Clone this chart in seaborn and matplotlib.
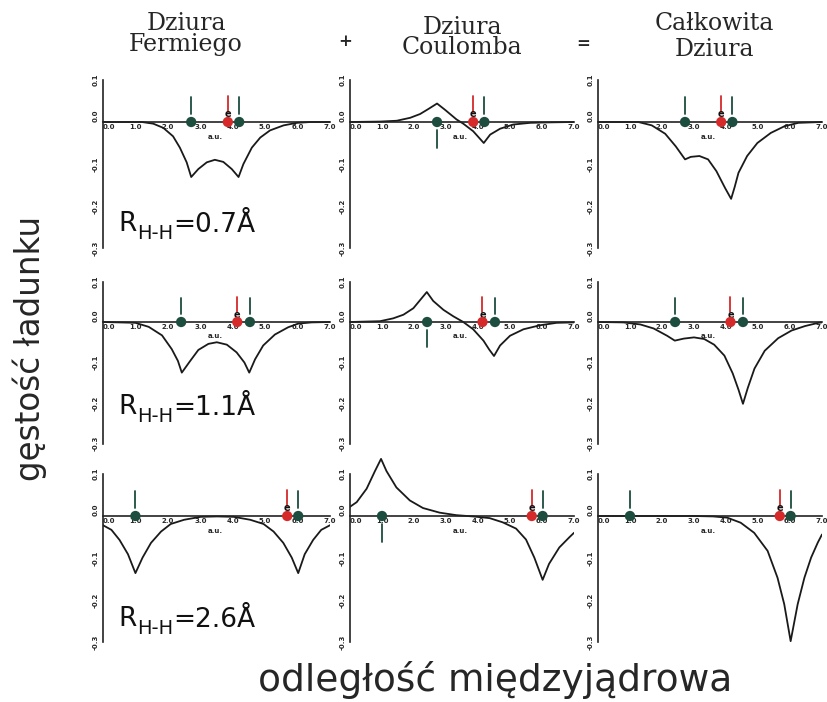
import numpy as np
import pandas as pd
import matplotlib
matplotlib.use("Agg")
import matplotlib.pyplot as plt
import seaborn as sns

# =============================================================================
# DANE (x w a.u., y = gestosc ladunku)
# =============================================================================
# R(H-H) = 0.7 A
fermi_07_x = [0, 1.2, 1.55, 1.86, 2.16, 2.37, 2.58, 2.72, 2.94, 3.2, 3.45, 3.71, 3.97, 4.18, 4.33, 4.59, 4.85, 5.15, 5.57, 5.98, 6.4, 7.0]
fermi_07_y = [0, 0, -0.004, -0.014, -0.034, -0.061, -0.096, -0.131, -0.112, -0.096, -0.090, -0.095, -0.112, -0.131, -0.100, -0.061, -0.037, -0.020, -0.008, -0.002, 0, 0]
coul_07_x = [0, 0.94, 1.46, 1.88, 2.19, 2.45, 2.72, 2.97, 3.33, 3.54, 3.85, 4.18, 4.38, 4.69, 5.1, 5.63, 6.15, 7.0]
coul_07_y = [0, 0.001, 0.003, 0.010, 0.019, 0.031, 0.044, 0.029, 0.006, -0.004, -0.022, -0.050, -0.030, -0.016, -0.006, -0.002, -0.001, 0]
tot_07_x = [0, 1.26, 1.68, 2.1, 2.43, 2.72, 2.9, 3.17, 3.44, 3.7, 3.97, 4.16, 4.27, 4.39, 4.66, 4.98, 5.4, 5.83, 6.26, 7.0]
tot_07_y = [0, 0, -0.008, -0.028, -0.058, -0.089, -0.083, -0.081, -0.089, -0.117, -0.157, -0.183, -0.155, -0.121, -0.081, -0.050, -0.026, -0.010, -0.002, 0]

# R(H-H) = 1.1 A
fermi_11_x = [0, 1.0, 1.41, 1.82, 2.12, 2.31, 2.43, 2.69, 2.94, 3.25, 3.51, 3.82, 4.12, 4.36, 4.51, 4.69, 4.94, 5.3, 5.71, 6.02, 6.43, 7.0]
fermi_11_y = [0, -0.002, -0.012, -0.033, -0.067, -0.096, -0.125, -0.096, -0.069, -0.054, -0.050, -0.056, -0.075, -0.100, -0.125, -0.092, -0.058, -0.031, -0.013, -0.004, -0.001, 0]
coul_11_x = [0, 0.94, 1.35, 1.67, 1.98, 2.19, 2.4, 2.6, 2.92, 3.23, 3.54, 3.85, 4.17, 4.35, 4.5, 4.69, 5.0, 5.42, 5.94, 6.46, 7.0]
coul_11_y = [0, 0.002, 0.009, 0.018, 0.034, 0.054, 0.074, 0.052, 0.030, 0.014, 0, -0.018, -0.046, -0.068, -0.084, -0.058, -0.034, -0.018, -0.008, -0.002, -0.001]
tot_11_x = [0, 0.79, 1.32, 1.74, 2.16, 2.4, 2.68, 3.0, 3.32, 3.63, 3.95, 4.21, 4.39, 4.53, 4.68, 4.89, 5.21, 5.63, 6.05, 6.47, 6.89, 7.0]
tot_11_y = [0, -0.001, -0.006, -0.016, -0.034, -0.046, -0.041, -0.038, -0.042, -0.056, -0.083, -0.127, -0.167, -0.202, -0.163, -0.115, -0.071, -0.040, -0.021, -0.010, -0.002, -0.001]

# R(H-H) = 2.6 A
fermi_26_x = [0, 0.26, 0.51, 0.77, 1.0, 1.22, 1.48, 1.79, 2.09, 2.5, 3.01, 3.52, 4.03, 4.54, 4.95, 5.26, 5.56, 5.82, 6.02, 6.22, 6.48, 6.73, 7.0]
fermi_26_y = [-0.022, -0.033, -0.057, -0.091, -0.136, -0.099, -0.064, -0.037, -0.019, -0.009, -0.002, -0.001, -0.002, -0.009, -0.019, -0.037, -0.064, -0.099, -0.136, -0.091, -0.057, -0.033, -0.022]
coul_26_x = [0, 0.21, 0.52, 0.78, 0.97, 1.14, 1.45, 1.87, 2.28, 2.8, 3.32, 3.84, 4.36, 4.77, 5.19, 5.5, 5.76, 6.02, 6.22, 6.54, 6.85, 7.0]
coul_26_y = [0.022, 0.033, 0.065, 0.107, 0.136, 0.107, 0.068, 0.037, 0.019, 0.008, 0.002, -0.001, -0.005, -0.015, -0.030, -0.056, -0.099, -0.152, -0.114, -0.075, -0.051, -0.040]
tot_26_x = [0, 1.0, 2.0, 3.0, 3.6, 4.04, 4.46, 4.88, 5.3, 5.61, 5.82, 6.02, 6.24, 6.45, 6.66, 6.87, 7.0]
tot_26_y = [0, 0, 0, 0, -0.001, -0.004, -0.016, -0.040, -0.083, -0.147, -0.210, -0.298, -0.210, -0.147, -0.099, -0.063, -0.044]

# polozenia protonow (zielone) i elektronu (czerwony)
protony = [[2.72, 4.2], [2.41, 4.53], [1.0, 6.02]]
elektron = [3.85, 4.14, 5.68]

odleglosci = ["0.7", "1.1", "2.6"]
naglowki = [("Dziura", "Fermiego"), ("Dziura", "Coulomba"), ("Całkowita", "Dziura")]
y_ticks = [-0.3, -0.2, -0.1, 0.0, 0.1]
x_ticks = [0, 1, 2, 3, 4, 5, 6, 7]

krzywe = [
    [(fermi_07_x, fermi_07_y), (coul_07_x, coul_07_y), (tot_07_x, tot_07_y)],
    [(fermi_11_x, fermi_11_y), (coul_11_x, coul_11_y), (tot_11_x, tot_11_y)],
    [(fermi_26_x, fermi_26_y), (coul_26_x, coul_26_y), (tot_26_x, tot_26_y)],
]

# =============================================================================
# UKLAD (piksele obrazu 827x702)
# =============================================================================
W, H = 827, 702
KOL_PX = [(103, 330), (350, 574), (598, 822)]      # x=0 i x=7
WIER_PX = [(122, 42.0), (322, 40.5), (516, 42.0)]  # y=0 i piksele na 0.1
R_Y_PX = [231, 414, 626]                           # linia bazowa etykiet R
YMIN, YMAX = -0.32, 0.145

ZIELONY = "#1d4d3f"
CZERWONY = "#d62a2a"

sns.set_style("white")
plt.rcParams['font.family'] = ['DejaVu Sans']

fig = plt.figure(figsize=(W / 100, H / 100), dpi=100)

for i in range(3):
    y0, per01 = WIER_PX[i]
    top_px = y0 - YMAX * 10 * per01
    bot_px = y0 - YMIN * 10 * per01
    for j in range(3):
        x0, x7 = KOL_PX[j]
        ax = fig.add_axes([x0 / W, 1 - bot_px / H, (x7 - x0) / W, (bot_px - top_px) / H])
        ax.patch.set_alpha(0)
        cx, cy = krzywe[i][j]
        df = pd.DataFrame({"x": cx, "y": cy})
        sns.lineplot(data=df, x="x", y="y", ax=ax, color="#1a1a1a", lw=1.3,
                     estimator=None, sort=False)

        # znaczniki polozen
        for k, p in enumerate(protony[i]):
            if j == 1 and k == 0:
                ax.plot([p, p], [-0.02, -0.062], color=ZIELONY, lw=1.3)
            else:
                ax.plot([p, p], [0.02, 0.06], color=ZIELONY, lw=1.3)
        ax.plot([elektron[i], elektron[i]], [0.025, 0.062], color=CZERWONY, lw=1.3)
        sns.scatterplot(x=protony[i], y=[0, 0], ax=ax, color=ZIELONY, s=55,
                        edgecolor="none", zorder=5)
        ax.text(elektron[i], 0.006, "e", fontsize=7, fontweight="bold",
                ha="center", va="bottom", color="#111111", zorder=6)
        sns.scatterplot(x=[elektron[i]], y=[0], ax=ax, color=CZERWONY, s=55,
                        edgecolor="none", zorder=6)

        ax.set_xlim(0, 7.0)
        ax.set_ylim(YMIN, YMAX)
        ax.set_xlabel("")
        ax.set_ylabel("")
        for s in ["top", "right"]:
            ax.spines[s].set_visible(False)
        ax.spines["bottom"].set_position(("data", 0))
        ax.spines["bottom"].set_bounds(0, 7)
        ax.spines["left"].set_bounds(-0.3, 0.1)
        for s in ["bottom", "left"]:
            ax.spines[s].set_linewidth(1.2)
            ax.spines[s].set_color("#222222")

        ax.set_xticks(x_ticks)
        ax.set_xticklabels([f"{v:.1f}" for v in x_ticks])
        ax.set_yticks(y_ticks)
        ax.set_yticklabels([f"{v:.1f}" for v in y_ticks])
        ax.tick_params(axis="x", direction="in", length=2, width=0.8, labelsize=5, pad=1.5)
        ax.tick_params(axis="y", direction="out", length=2, width=0.8, labelsize=5, pad=1,
                       labelrotation=90)
        for t in ax.get_yticklabels():
            t.set_va("center")
            t.set_fontweight("bold")
        ax.get_yticklabels()[3].set_va("bottom")
        for t in ax.get_xticklabels():
            t.set_fontweight("bold")
        ax.get_xticklabels()[0].set_ha("left")
        ax.text(3.45, -0.035, "a.u.", fontsize=5, fontweight="bold", ha="center", va="center")

        if j == 0:
            # etykieta odleglosci H-H: R, duzy indeks dolny, reszta
            t1 = fig.text(118 / W, 1 - R_Y_PX[i] / H, "R", fontsize=19,
                          ha="left", va="baseline", color="#111111")
            t2 = ax.annotate("H-H", xy=(1, 0), xycoords=t1, xytext=(0.5, -4),
                             textcoords="offset points", fontsize=14, ha="left",
                             va="bottom", color="#111111", annotation_clip=False)
            ax.annotate("=" + odleglosci[i] + "Å", xy=(1, 0), xycoords=t2,
                        xytext=(0, 3), textcoords="offset points", fontsize=19,
                        ha="left", va="bottom", color="#111111", annotation_clip=False)

# naglowki kolumn
for xc, (ya, yb), (l1, l2) in zip([186, 462, 714], [(24, 45), (27, 48), (24, 49)], naglowki):
    fig.text(xc / W, 1 - ya / H, l1, family="DejaVu Serif", fontsize=17,
             ha="center", va="center")
    fig.text(xc / W, 1 - yb / H, l2, family="DejaVu Serif", fontsize=17,
             ha="center", va="center")
fig.text(345 / W, 1 - 42 / H, "+", family="DejaVu Serif", fontsize=12,
         fontweight="bold", ha="center", va="center")
fig.text(583 / W, 1 - 44 / H, "=", family="DejaVu Serif", fontsize=12,
         fontweight="bold", ha="center", va="center")

fig.text(30 / W, 1 - 348 / H, "gęstość ładunku", fontsize=23.5, rotation=90,
         ha="center", va="center")
fig.text(495 / W, 1 - 680 / H, "odległość międzyjądrowa", fontsize=27,
         ha="center", va="center")

fig.savefig("out.png", dpi=100, facecolor="white")
